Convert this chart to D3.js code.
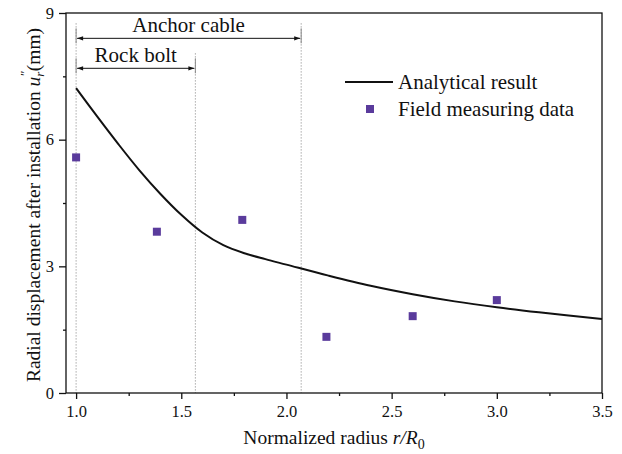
<!DOCTYPE html>
<html>
<head>
<meta charset="utf-8">
<script src="https://cdn.jsdelivr.net/npm/d3@7"></script>
<style>
  body { margin: 0; background: #fff; }
  svg text { font-family: "Liberation Serif", "Times New Roman", serif; fill: #111; }
</style>
</head>
<body>
<svg id="chart" width="622" height="454"></svg>
<script>
const width = 622;
const height = 454;
const margin = { top: 13, right: 20, bottom: 61, left: 66 };
const svg = d3.select("#chart");
const chartWidth = width - margin.left - margin.right;
const chartHeight = height - margin.top - margin.bottom;
const g = svg.append("g").attr("transform", `translate(${margin.left},${margin.top})`);

// analytical curve
const curveX = [1.0, 1.1, 1.2, 1.3, 1.4, 1.5, 1.6, 1.7, 1.8, 1.9, 2.0, 2.2, 2.4, 2.6, 2.8, 3.0, 3.2, 3.5];
const curveY = [7.22, 6.55, 5.9, 5.28, 4.72, 4.22, 3.8, 3.5, 3.31, 3.17, 3.04, 2.78, 2.54, 2.34, 2.17, 2.03, 1.91, 1.75];

// field measuring data
const fieldX = [1.0, 1.384, 1.79, 2.19, 2.6, 3.0];
const fieldY = [5.58, 3.82, 4.1, 1.33, 1.82, 2.2];

// support ranges (normalized radius)
const supportNames = ["Anchor cable", "Rock bolt"];
const supportStart = [1.0, 1.0];
const supportEnd = [2.07, 1.567];
const supportLevel = [8.4, 7.69];

const xTicks = [1.0, 1.5, 2.0, 2.5, 3.0, 3.5];
const xMinor = [1.25, 1.75, 2.25, 2.75, 3.25];
const yTicks = [0, 3, 6, 9];
const yMinor = [1.5, 4.5, 7.5];

const x = d3.scaleLinear().domain([0.952, 3.5]).range([0, chartWidth]);
const y = d3.scaleLinear().domain([0, 9]).range([chartHeight, 0]);

const purple = "#5a3b9c";

// vertical dotted guide lines
const guideX = Array.from(new Set([...supportStart, ...supportEnd]));
g.selectAll("line.guide")
  .data(guideX)
  .enter().append("line")
  .attr("class", "guide")
  .attr("x1", d => x(d)).attr("x2", d => x(d))
  .attr("y1", d => y(d3.max(supportLevel.filter((v, i) => supportStart[i] === d || supportEnd[i] === d)) + 0.36))
  .attr("y2", chartHeight)
  .attr("stroke", "#aaa")
  .attr("stroke-width", 1)
  .attr("stroke-dasharray", "1.5,1.5");

// arrow marker
const defs = svg.append("defs");
["start", "end"].forEach(k => {
  defs.append("marker")
    .attr("id", "arr-" + k)
    .attr("viewBox", "0 0 10 10")
    .attr("refX", k === "end" ? 10 : 0).attr("refY", 5)
    .attr("markerWidth", 12).attr("markerHeight", 6)
    .attr("markerUnits", "userSpaceOnUse")
    .attr("orient", "auto")
    .append("path")
    .attr("d", k === "end" ? "M0,1.5L10,5L0,8.5Z" : "M10,1.5L0,5L10,8.5Z")
    .attr("fill", "#111");
});

supportNames.forEach((name, i) => {
  const yy = y(supportLevel[i]);
  // end bars
  [supportStart[i], supportEnd[i]].forEach(v => {
    g.append("line")
      .attr("x1", x(v)).attr("x2", x(v))
      .attr("y1", yy - 10).attr("y2", yy + 5)
      .attr("stroke", "#888").attr("stroke-width", 1);
  });
  g.append("line")
    .attr("x1", x(supportStart[i]) + 1).attr("x2", x(supportEnd[i]) - 1)
    .attr("y1", yy).attr("y2", yy)
    .attr("stroke", "#111").attr("stroke-width", 1)
    .attr("marker-start", "url(#arr-start)")
    .attr("marker-end", "url(#arr-end)");
  g.append("text")
    .attr("x", (x(supportStart[i]) + x(supportEnd[i])) / 2)
    .attr("y", yy - 6)
    .attr("text-anchor", "middle")
    .style("font-size", "21px")
    .text(name);
});

// curve
const line = d3.line()
  .x((d, i) => x(curveX[i]))
  .y(d => y(d))
  .curve(d3.curveCatmullRom.alpha(0.5));

g.append("path")
  .datum(curveY)
  .attr("d", line)
  .attr("fill", "none")
  .attr("stroke", "#111")
  .attr("stroke-width", 2);

// squares
const sq = 8;
g.selectAll("rect.field")
  .data(fieldY)
  .enter().append("rect")
  .attr("class", "field")
  .attr("x", (d, i) => x(fieldX[i]) - sq / 2)
  .attr("y", d => y(d) - sq / 2)
  .attr("width", sq).attr("height", sq)
  .attr("fill", purple);

// frame
g.append("rect")
  .attr("width", chartWidth).attr("height", chartHeight)
  .attr("fill", "none").attr("stroke", "#111").attr("stroke-width", 1.3);

// axes
g.append("g").attr("transform", `translate(0,${chartHeight})`)
  .call(d3.axisBottom(x).tickValues(xTicks).tickFormat(d3.format(".1f")).tickSize(6).tickPadding(6));
g.append("g").attr("transform", `translate(0,${chartHeight})`)
  .call(d3.axisBottom(x).tickValues(xMinor).tickFormat("").tickSize(3));
g.append("g")
  .call(d3.axisLeft(y).tickValues(yTicks).tickSize(7).tickPadding(5));
g.append("g")
  .call(d3.axisLeft(y).tickValues(yMinor).tickFormat("").tickSize(3));

g.selectAll(".domain").remove();
g.selectAll(".tick line").attr("stroke", "#111").attr("stroke-width", 1.3);
g.selectAll(".tick text")
  .style("font-family", "'Liberation Serif', serif")
  .style("font-size", "16.5px")
  .attr("fill", "#222");

// legend
const lg = g.append("g").attr("transform", `translate(${345 - margin.left},${82 - margin.top})`);
lg.append("line").attr("x1", 0).attr("x2", 48).attr("y1", 0).attr("y2", 0)
  .attr("stroke", "#111").attr("stroke-width", 2);
lg.append("text").attr("x", 53).attr("y", 7).style("font-size", "21px").text("Analytical result");
lg.append("rect").attr("x", 21).attr("y", 23).attr("width", sq).attr("height", sq).attr("fill", purple);
lg.append("text").attr("x", 53).attr("y", 34).style("font-size", "21px").text("Field measuring data");

// x label
const xl = svg.append("text")
  .attr("x", margin.left + chartWidth / 2)
  .attr("y", 444)
  .attr("text-anchor", "middle")
  .style("font-size", "19.5px");
xl.append("tspan").text("Normalized radius ");
xl.append("tspan").style("font-style", "italic").text("r/R");
xl.append("tspan").attr("dy", 5).style("font-size", "14px").text("0");

// y label
const yl = svg.append("text")
  .attr("transform", `translate(40,${margin.top + chartHeight / 2 + 2}) rotate(-90)`)
  .attr("text-anchor", "middle")
  .style("font-size", "19.5px");
yl.append("tspan").text("Radial displacement after installation ");
yl.append("tspan").style("font-style", "italic").text("u");
yl.append("tspan").attr("dy", 4).style("font-style", "italic").style("font-size", "13px").text("r");
yl.append("tspan").attr("dx", -5).attr("dy", -15).style("font-style", "italic").style("font-size", "13px").text("″");
yl.append("tspan").attr("dy", 11).text("(mm)");
</script>
</body>
</html>
